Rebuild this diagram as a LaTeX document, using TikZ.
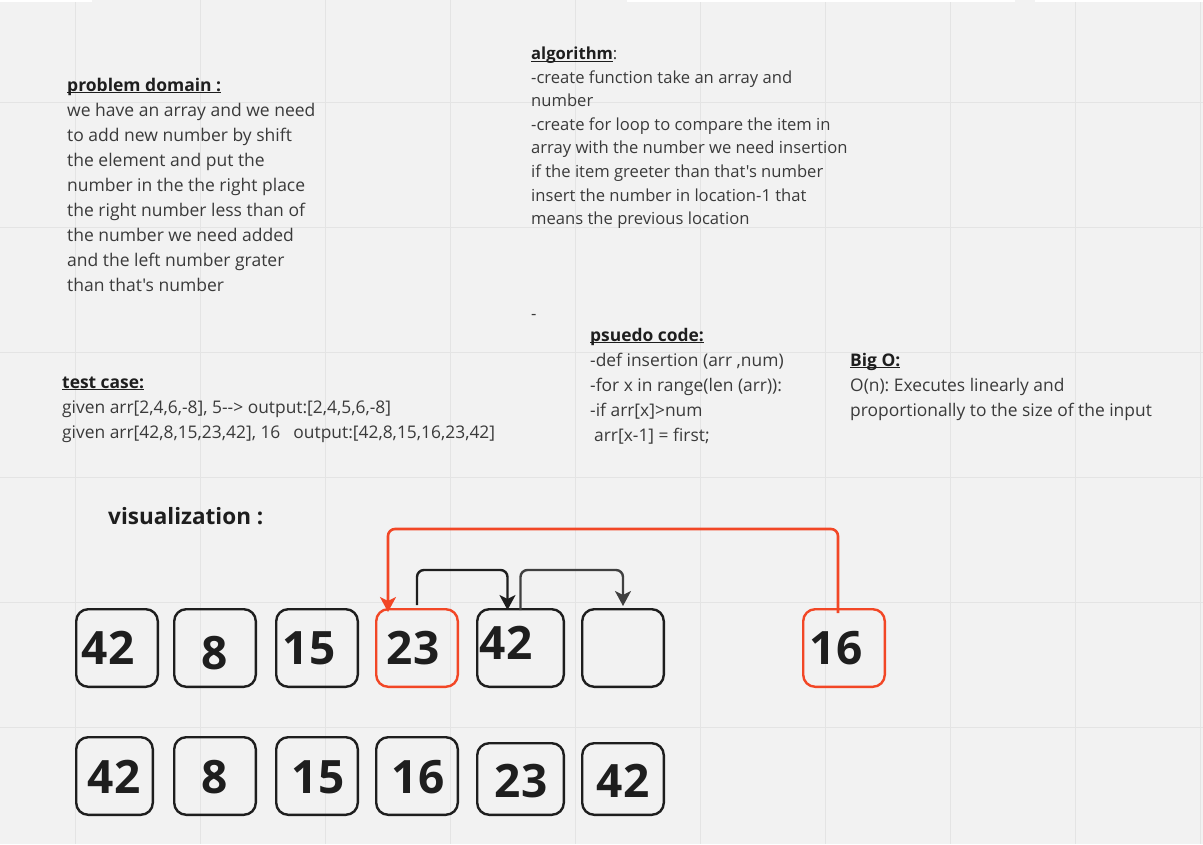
\documentclass[tikz,border=0pt]{standalone}
\usepackage{fontspec}
\setmainfont{Open Sans}[Ligatures=TeXOff]
\usetikzlibrary{arrows.meta}
\definecolor{paper}{HTML}{F2F2F2}
\definecolor{gridline}{HTML}{E4E4E4}
\definecolor{ink}{HTML}{1E1E1E}
\definecolor{note}{HTML}{3A3A3A}
\definecolor{hot}{HTML}{F24726}
\newcommand{\hd}[1]{\textcolor{ink}{\underline{\smash{\textbf{#1}}}}}
\frenchspacing

\begin{document}
\begin{tikzpicture}[x=1pt,y=-1pt,>={Stealth[length=15pt,width=16pt,inset=4pt]}]
  \tikzstyle{cell}=[rectangle,rounded corners=12pt,draw=ink,line width=2.4pt,inner sep=0pt]
  \tikzstyle{digit}=[text=ink,font=\fontsize{46}{46}\selectfont\bfseries,inner sep=0pt]
  \tikzstyle{txt}=[text=note,align=left,anchor=north west,inner sep=0pt]
  \tikzstyle{move}=[->,draw=ink,line width=2.4pt,rounded corners=7pt]

\fill[paper] (0,0) rectangle (1203,844);
\useasboundingbox (0,0) rectangle (1203,844);
\foreach \x in {0,...,9} {
  \draw[gridline,line width=1.5pt] (75.5+125*\x,0) -- (75.5+125*\x,844);
}
\foreach \y in {0,...,5} {
  \draw[gridline,line width=1.5pt] (0,102.5+125*\y) -- (1203,102.5+125*\y);
}
\foreach \a/\b in {0/92, 627/1015, 1035/1203} {
  \fill[white] (\a,0) rectangle (\b,1.5);
}

\begin{scope}
\node[txt,font=\fontsize{17.5}{25}\selectfont] (domain) at (67,73.5) {\strut\hd{problem domain :}\\
  we have an array and we need\\
  to add new number by shift\\
  the element and put the\\
  number in the the right place\\
  the right number less than of\\
  the number we need added\\
  and the left number grater\\
  than that's number};

\node[txt,font=\fontsize{16.6}{23.6}\selectfont] (algo) at (531,42.8) {\strut\hd{algorithm}:\\
  -create function take an array and\\
  number\\
  -create for loop to compare the item in\\
  array with the number we need insertion\\
  if the item greeter than that's number\\
  insert the number in location-1 that\\
  means the previous location\\[3\baselineskip]
  -};

\node[txt,font=\fontsize{17.4}{25}\selectfont] (pseudo) at (590,323.5) {\strut\hd{psuedo code:}\\
  -def insertion (arr ,num)\\
  -for x in range(len (arr)):\\
  -if arr[x]>num\\
  \hspace{4pt}arr[x-1] = first;};

\node[txt,font=\fontsize{17.4}{25}\selectfont] (bigo) at (850,348.5) {\strut\hd{Big O:}\\
  O(n): Executes linearly and\\
  proportionally to the size of the input};

\node[txt,font=\fontsize{17.4}{25}\selectfont] (tests) at (62,370.5) {\strut\hd{test case:}\\
  given arr[2,4,6,-8], 5--> output:[2,4,5,6,-8]\\
  given arr[42,8,15,23,42], 16\hspace{13pt}output:[42,8,15,16,23,42]};

\node[anchor=base west,inner sep=0pt,text=ink,font=\fontsize{22.5}{26}\selectfont\bfseries] (vis) at (108,524) {visualization :};

\newcommand{\cellbox}[9]{
  \node[cell,draw=#9,minimum width=#4-#2-2.4,minimum height=#5-#3-2.4] (#1) at ({(#2+#4)/2},{(#3+#5)/2}) {};
  \node[digit] (#1-v) at (#7,#8) {#6};
}

\foreach \n/\l/\t/\r/\b/\v/\vx/\vy/\c in {t1/75/608/159/688/42/108/648/ink, t2/173/608/257/688/8/215/653/ink,
  t3/275/608/359/688/15/309/648/ink, t4/375/608/459/688/23/413/648/hot, t5/476/608/565/688/42/506/643/ink,
  t6/581/608/665/688//623/648/ink, t7/802/608/886/688/16/836/648/hot} {
  \cellbox{\n}{\l}{\t}{\r}{\b}{\v}{\vx}{\vy}{\c}
}

\foreach \n/\l/\t/\r/\b/\v/\vx/\vy/\c in {b1/75/736/154/816/42/114/777/ink, b2/173/736/257/816/8/215/777/ink,
  b3/275/736/359/816/15/318/777/ink, b4/375/736/459/816/16/418/777/ink, b5/476/742/565/816/23/521/781/ink,
  b6/581/742/665/816/42/623/781/ink} {
  \cellbox{\n}{\l}{\t}{\r}{\b}{\v}{\vx}{\vy}{\c}
}

\coordinate (redlvl) at (0,529);
\coordinate (blklvl) at (0,570);
\coordinate (redstart) at ([xshift=-6pt,yshift=-5pt]t7.north);
\coordinate (redtip) at ([xshift=13pt,yshift=-4pt]t4.north west);
\coordinate (shiftA) at ([yshift=3pt]t4.north);
\coordinate (tipA) at ([xshift=-13pt,yshift=-2pt]t5.north);
\coordinate (shiftB) at ([yshift=-2pt]t5.north);
\coordinate (tipB) at ([yshift=2pt]t6.north);

\draw[move,draw=hot,line width=2.6pt] (redstart) -- (redstart |- redlvl) -- (redtip |- redlvl) -- (redtip);
\draw[move] (shiftA) -- (shiftA |- blklvl) -- (tipA |- blklvl) -- (tipA);
\draw[move,draw=ink!85] (shiftB) -- (shiftB |- blklvl) -- (tipB |- blklvl) -- (tipB);
\end{scope}
\end{tikzpicture}
\end{document}
